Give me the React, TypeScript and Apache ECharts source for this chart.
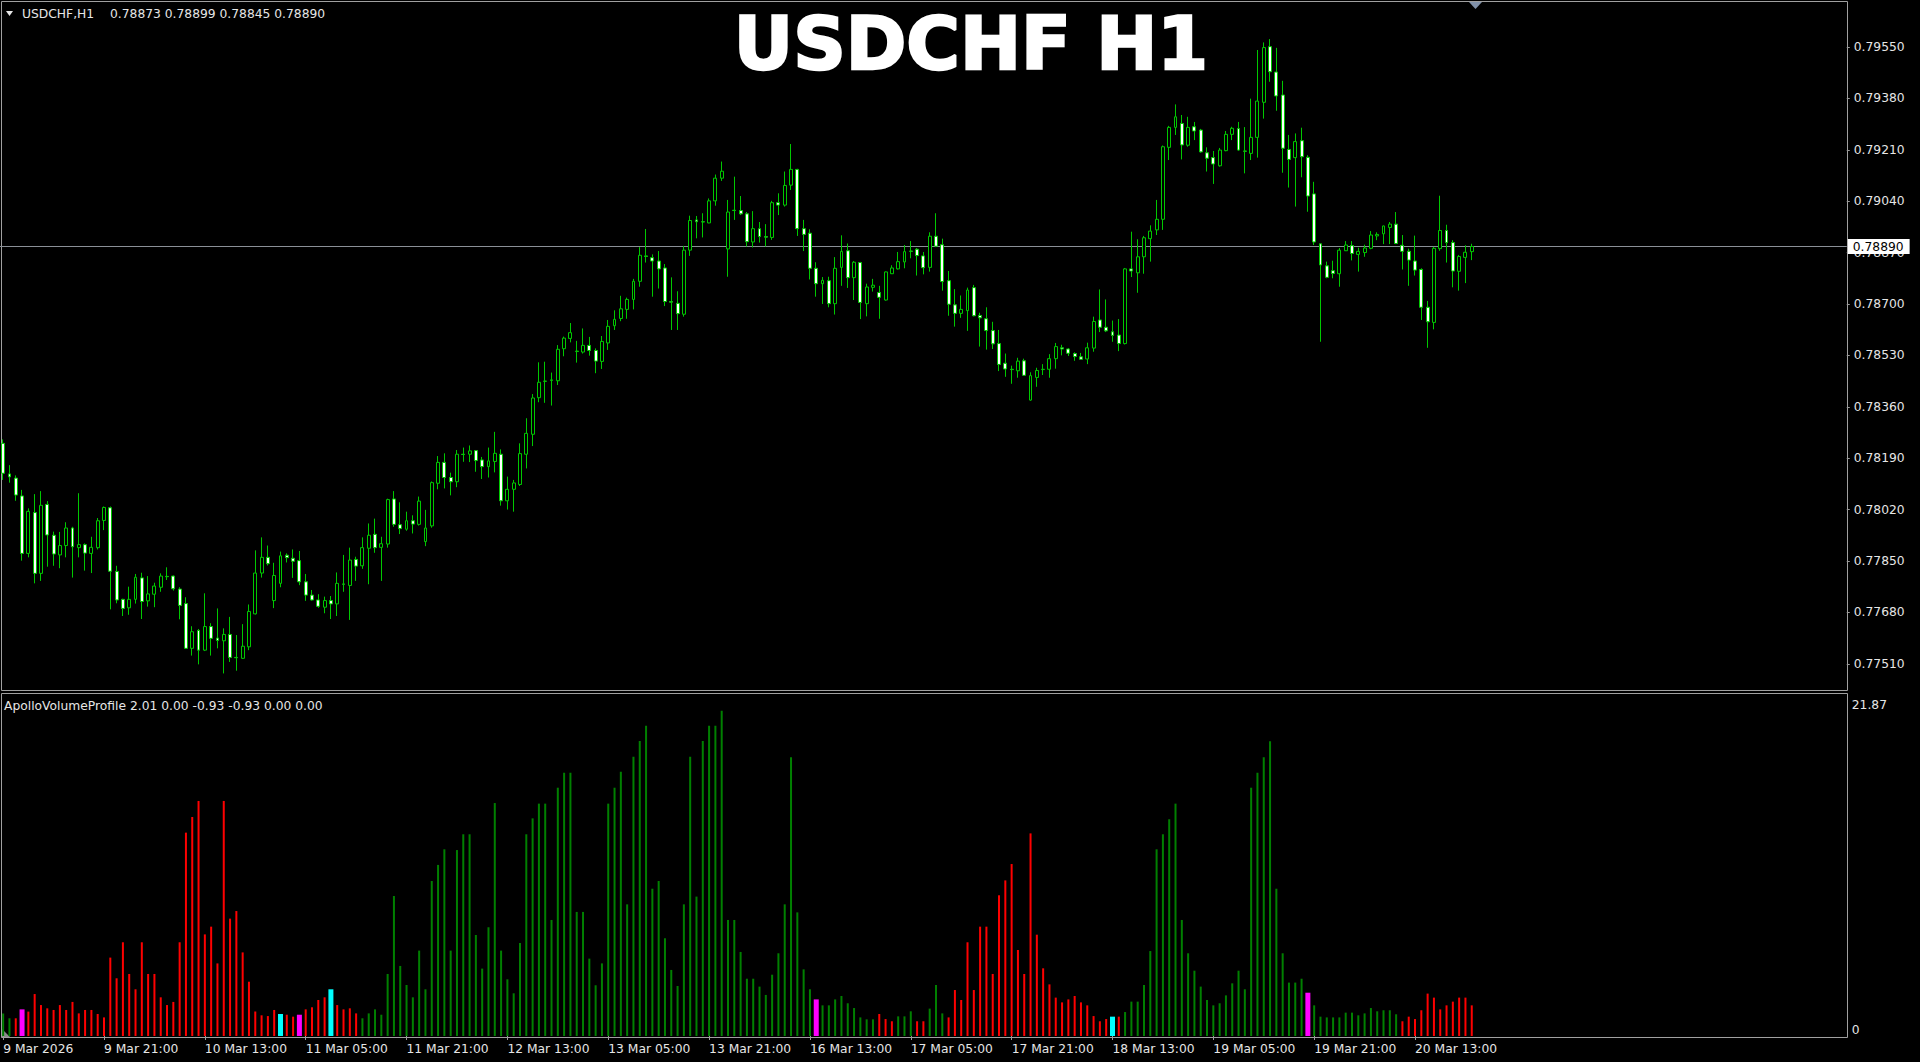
import React, { useEffect, useRef } from "react";
import * as echarts from "echarts";

// ---------- texts ----------
const chartTitle = "USDCHF H1";
const headerSymbol = "USDCHF,H1";
const indicatorLabel = "ApolloVolumeProfile 2.01 0.00 -0.93 -0.93 0.00 0.00";
const firstTimeLabel = "9 Mar 2026";

// ---------- time axis (H1 bars, broker time) ----------
const sessionDays = [
  { day: 9, first: 5, last: 23 },
  { day: 10, first: 0, last: 23 },
  { day: 11, first: 0, last: 23 },
  { day: 12, first: 0, last: 23 },
  { day: 13, first: 0, last: 23 },
  { day: 16, first: 0, last: 23 },
  { day: 17, first: 0, last: 23 },
  { day: 18, first: 0, last: 23 },
  { day: 19, first: 0, last: 23 },
  { day: 20, first: 0, last: 22 },
];
const timeLabelStep = 16;
const chartShiftSlots = 59;

// ---------- price scale ----------
const priceTicks = [0.7751, 0.7768, 0.7785, 0.7802, 0.7819, 0.7836, 0.7853, 0.787, 0.7887, 0.7904, 0.7921, 0.7938, 0.7955];
const priceMin = 0.774232;
const priceMax = 0.796954;
const volumeTicks = [0, 21.87];
const volumeMax = 22.99;

// ---------- OHLC ----------
const priceOpen = [
  0.78239,0.78138,0.78124,0.78065,0.77875,0.78010,0.77809,0.78037,0.77935,0.77870,
  0.77901,0.77959,0.77894,0.77904,0.77875,0.77894,0.77984,0.78026,0.77815,0.77723,
  0.77695,0.77723,0.77794,0.77718,0.77740,0.77763,0.77799,0.77800,0.77757,0.77709,
  0.77561,0.77620,0.77555,0.77633,0.77595,0.77586,0.77607,0.77531,0.77528,0.77566,
  0.77675,0.77810,0.77862,0.77719,0.77776,0.77869,0.77859,0.77851,0.77781,0.77737,
  0.77721,0.77697,0.77719,0.77708,0.77774,0.77769,0.77855,0.77834,0.77892,0.77938,
  0.77895,0.77906,0.78055,0.77970,0.77955,0.77983,0.77971,0.77914,0.77966,0.78107,
  0.78176,0.78126,0.78112,0.78203,0.78203,0.78215,0.78184,0.78162,0.78179,0.78203,
  0.78049,0.78087,0.78103,0.78203,0.78269,0.78390,0.78444,0.78447,0.78446,0.78552,
  0.78586,0.78544,0.78541,0.78563,0.78546,0.78510,0.78571,0.78628,0.78652,0.78682,
  0.78715,0.78775,0.78859,0.78853,0.78842,0.78819,0.78708,0.78702,0.78666,0.78878,
  0.78978,0.78972,0.78968,0.79041,0.79116,0.78882,0.79010,0.79009,0.78998,0.78905,
  0.78949,0.78923,0.78920,0.79035,0.79027,0.79093,0.79145,0.78949,0.78934,0.78818,
  0.78767,0.78777,0.78701,0.78821,0.78876,0.78787,0.78837,0.78701,0.78755,0.78738,
  0.78713,0.78800,0.78816,0.78839,0.78875,0.78881,0.78859,0.78821,0.78924,0.78896,
  0.78777,0.78697,0.78669,0.78678,0.78754,0.78662,0.78651,0.78612,0.78569,0.78504,
  0.78484,0.78479,0.78512,0.78382,0.78457,0.78483,0.78484,0.78519,0.78555,0.78551,
  0.78536,0.78525,0.78518,0.78554,0.78647,0.78623,0.78608,0.78597,0.78569,0.78816,
  0.78803,0.78856,0.78916,0.78945,0.78980,0.79218,0.79284,0.79297,0.79225,0.79286,
  0.79275,0.79200,0.79184,0.79157,0.79207,0.79261,0.79280,0.79206,0.79198,0.79251,
  0.79367,0.79551,0.79467,0.79391,0.79211,0.79184,0.79240,0.79185,0.79064,0.78899,
  0.78826,0.78810,0.78800,0.78876,0.78893,0.78864,0.78870,0.78884,0.78925,0.78932,
  0.78953,0.78964,0.78894,0.78874,0.78842,0.78814,0.78689,0.78639,0.78883,0.78943,
  0.78903,0.78808,0.78854,0.78873,
];
const priceHigh = [
  0.78252,0.78167,0.78133,0.78085,0.78024,0.78071,0.78081,0.78048,0.77947,0.77946,
  0.77978,0.77963,0.78074,0.77908,0.77930,0.77992,0.78030,0.78030,0.77834,0.77725,
  0.77765,0.77807,0.77811,0.77800,0.77778,0.77809,0.77829,0.77802,0.77763,0.77730,
  0.77634,0.77625,0.77743,0.77644,0.77693,0.77627,0.77665,0.77605,0.77641,0.77706,
  0.77885,0.77928,0.77901,0.77844,0.77881,0.77875,0.77888,0.77883,0.77807,0.77754,
  0.77740,0.77732,0.77734,0.77812,0.77870,0.77894,0.77864,0.77928,0.77974,0.77990,
  0.77930,0.78056,0.78081,0.78044,0.78013,0.78001,0.78063,0.78019,0.78113,0.78197,
  0.78206,0.78142,0.78217,0.78225,0.78232,0.78217,0.78194,0.78225,0.78277,0.78219,
  0.78129,0.78118,0.78239,0.78322,0.78402,0.78507,0.78509,0.78473,0.78564,0.78592,
  0.78637,0.78578,0.78619,0.78591,0.78553,0.78594,0.78647,0.78679,0.78727,0.78721,
  0.78783,0.78888,0.78948,0.78864,0.78875,0.78832,0.78788,0.78742,0.78892,0.78992,
  0.78991,0.79000,0.79049,0.79128,0.79171,0.79044,0.79121,0.79057,0.79004,0.79007,
  0.78971,0.78964,0.79041,0.79066,0.79138,0.79229,0.79147,0.78978,0.78947,0.78838,
  0.78789,0.78790,0.78855,0.78927,0.78900,0.78842,0.78839,0.78767,0.78783,0.78760,
  0.78807,0.78828,0.78872,0.78895,0.78908,0.78885,0.78872,0.78937,0.79000,0.78916,
  0.78809,0.78749,0.78728,0.78754,0.78763,0.78671,0.78689,0.78641,0.78614,0.78536,
  0.78496,0.78522,0.78519,0.78474,0.78489,0.78501,0.78534,0.78571,0.78565,0.78554,
  0.78540,0.78538,0.78572,0.78658,0.78748,0.78715,0.78645,0.78650,0.78819,0.78939,
  0.78914,0.78925,0.78960,0.79044,0.79224,0.79289,0.79360,0.79325,0.79319,0.79302,
  0.79279,0.79218,0.79206,0.79216,0.79272,0.79286,0.79302,0.79285,0.79379,0.79540,
  0.79565,0.79576,0.79547,0.79438,0.79259,0.79264,0.79283,0.79192,0.79104,0.78900,
  0.78840,0.78843,0.78885,0.78908,0.78908,0.78886,0.78896,0.78941,0.78937,0.78959,
  0.78971,0.79004,0.78928,0.78883,0.78926,0.78818,0.78710,0.78889,0.79058,0.78962,
  0.78911,0.78862,0.78894,0.78899,
];
const priceLow = [
  0.78118,0.78109,0.78049,0.77851,0.77862,0.77776,0.77784,0.77831,0.77834,0.77826,
  0.77862,0.77795,0.77862,0.77818,0.77810,0.77888,0.77952,0.77690,0.77710,0.77668,
  0.77672,0.77709,0.77658,0.77699,0.77697,0.77748,0.77787,0.77752,0.77657,0.77560,
  0.77537,0.77508,0.77552,0.77537,0.77561,0.77478,0.77516,0.77487,0.77526,0.77555,
  0.77673,0.77795,0.77835,0.77694,0.77763,0.77845,0.77794,0.77770,0.77718,0.77719,
  0.77695,0.77677,0.77658,0.77668,0.77748,0.77655,0.77784,0.77824,0.77773,0.77877,
  0.77784,0.77894,0.77963,0.77939,0.77950,0.77941,0.77967,0.77899,0.77960,0.78087,
  0.78090,0.78067,0.78094,0.78178,0.78177,0.78145,0.78121,0.78126,0.78143,0.78033,
  0.78020,0.78013,0.78098,0.78156,0.78230,0.78375,0.78373,0.78364,0.78432,0.78527,
  0.78573,0.78506,0.78536,0.78529,0.78471,0.78485,0.78548,0.78614,0.78643,0.78651,
  0.78682,0.78757,0.78837,0.78724,0.78751,0.78693,0.78614,0.78614,0.78658,0.78859,
  0.78917,0.78920,0.78967,0.79025,0.79107,0.78790,0.78978,0.78994,0.78890,0.78887,
  0.78903,0.78890,0.78912,0.78994,0.79022,0.79077,0.78925,0.78875,0.78781,0.78724,
  0.78700,0.78689,0.78665,0.78760,0.78753,0.78713,0.78650,0.78659,0.78741,0.78651,
  0.78711,0.78799,0.78814,0.78818,0.78851,0.78794,0.78798,0.78807,0.78888,0.78744,
  0.78661,0.78625,0.78654,0.78611,0.78659,0.78559,0.78549,0.78551,0.78478,0.78459,
  0.78436,0.78456,0.78463,0.78380,0.78426,0.78465,0.78456,0.78486,0.78530,0.78528,
  0.78512,0.78515,0.78501,0.78542,0.78607,0.78607,0.78575,0.78544,0.78566,0.78789,
  0.78737,0.78800,0.78840,0.78928,0.78945,0.79176,0.79259,0.79178,0.79220,0.79242,
  0.79200,0.79138,0.79097,0.79154,0.79205,0.79242,0.79207,0.79132,0.79176,0.79184,
  0.79313,0.79435,0.79339,0.79134,0.79085,0.79022,0.79119,0.79005,0.78895,0.78575,
  0.78785,0.78785,0.78757,0.78875,0.78844,0.78807,0.78856,0.78881,0.78911,0.78898,
  0.78898,0.78898,0.78814,0.78760,0.78794,0.78647,0.78555,0.78616,0.78876,0.78837,
  0.78755,0.78744,0.78769,0.78845,
];
const priceClose = [
  0.78140,0.78128,0.78068,0.77875,0.78014,0.77809,0.78034,0.77936,0.77873,0.77901,
  0.77959,0.77897,0.77904,0.77876,0.77895,0.77983,0.78027,0.77816,0.77721,0.77693,
  0.77723,0.77796,0.77716,0.77741,0.77767,0.77800,0.77798,0.77758,0.77703,0.77561,
  0.77616,0.77555,0.77633,0.77594,0.77587,0.77607,0.77531,0.77530,0.77568,0.77683,
  0.77810,0.77862,0.77841,0.77802,0.77867,0.77861,0.77849,0.77781,0.77737,0.77721,
  0.77700,0.77719,0.77708,0.77776,0.77773,0.77853,0.77833,0.77894,0.77935,0.77894,
  0.77907,0.78053,0.77971,0.77957,0.77983,0.77972,0.78048,0.77959,0.78109,0.78176,
  0.78126,0.78112,0.78203,0.78202,0.78214,0.78182,0.78162,0.78181,0.78206,0.78049,
  0.78087,0.78108,0.78205,0.78272,0.78389,0.78441,0.78445,0.78449,0.78550,0.78587,
  0.78605,0.78543,0.78563,0.78546,0.78511,0.78576,0.78626,0.78649,0.78684,0.78715,
  0.78775,0.78861,0.78857,0.78842,0.78816,0.78708,0.78706,0.78668,0.78878,0.78976,
  0.78972,0.78971,0.79041,0.79116,0.79139,0.79004,0.79009,0.78998,0.78906,0.78949,
  0.78923,0.78921,0.79035,0.79027,0.79092,0.79145,0.78949,0.78930,0.78818,0.78767,
  0.78778,0.78701,0.78818,0.78874,0.78787,0.78838,0.78705,0.78756,0.78762,0.78722,
  0.78806,0.78819,0.78840,0.78873,0.78874,0.78860,0.78820,0.78924,0.78891,0.78774,
  0.78699,0.78669,0.78682,0.78746,0.78661,0.78654,0.78612,0.78568,0.78500,0.78485,
  0.78483,0.78511,0.78464,0.78463,0.78480,0.78484,0.78519,0.78559,0.78551,0.78537,
  0.78526,0.78517,0.78555,0.78642,0.78623,0.78611,0.78596,0.78569,0.78816,0.78809,
  0.78856,0.78919,0.78941,0.78980,0.79220,0.79284,0.79319,0.79226,0.79284,0.79272,
  0.79203,0.79182,0.79163,0.79209,0.79261,0.79281,0.79209,0.79205,0.79251,0.79371,
  0.79548,0.79468,0.79388,0.79215,0.79178,0.79237,0.79187,0.79057,0.78905,0.78829,
  0.78788,0.78801,0.78878,0.78895,0.78867,0.78874,0.78885,0.78928,0.78930,0.78958,
  0.78964,0.78900,0.78874,0.78845,0.78812,0.78689,0.78641,0.78884,0.78943,0.78903,
  0.78809,0.78857,0.78871,0.78890,
];

// ---------- ApolloVolumeProfile histogram ----------
const volumeValues = [
  1.52,1.19,1.19,1.79,1.64,2.82,2.08,1.86,1.75,2.08,
  1.75,2.29,1.52,1.75,1.75,1.48,1.25,5.27,3.88,6.30,
  4.17,3.14,6.30,4.17,4.17,2.60,2.08,2.29,6.30,13.67,
  14.72,15.80,6.83,7.35,4.88,15.80,7.89,8.40,5.62,3.65,
  1.64,1.39,1.34,1.75,1.48,1.43,1.30,1.43,1.79,1.93,
  2.42,2.60,3.14,2.08,1.79,1.86,1.52,1.19,1.52,1.79,
  1.43,4.17,9.41,4.71,3.43,2.60,5.74,3.14,10.42,11.50,
  12.55,5.74,12.50,13.56,13.56,6.79,4.53,7.31,15.66,5.74,
  3.81,2.87,6.25,13.56,14.63,15.62,15.62,7.80,16.69,17.70,
  17.70,8.34,8.34,5.20,3.41,4.88,15.62,16.69,17.77,8.85,
  18.78,19.83,20.86,9.90,10.42,6.57,4.44,3.36,8.85,18.78,
  9.37,19.83,20.86,20.86,21.87,7.80,7.80,5.65,3.85,3.85,
  3.32,2.76,4.12,5.56,8.85,18.73,8.31,4.48,3.14,2.46,
  2.06,2.06,2.46,2.69,2.20,1.88,1.25,1.12,1.12,1.48,
  1.14,0.99,1.32,1.32,1.66,0.99,0.99,1.84,3.43,1.52,
  1.25,3.09,2.42,6.30,3.09,7.35,7.35,4.17,9.46,10.46,
  11.56,5.78,4.17,13.62,6.81,4.55,3.47,2.58,2.26,2.46,
  2.69,2.26,2.06,1.34,0.99,1.14,1.30,1.30,1.61,2.31,
  2.31,3.43,5.71,12.55,13.56,14.57,15.62,7.80,5.56,4.39,
  3.32,2.42,2.06,2.20,2.73,3.54,4.39,3.14,16.69,17.70,
  18.73,19.81,9.90,5.56,3.59,3.59,3.85,2.91,2.06,1.30,
  1.25,1.25,1.25,1.57,1.57,1.39,1.52,1.88,1.66,1.73,
  1.73,1.46,0.99,1.30,1.14,1.73,2.85,2.58,1.79,2.06,
  2.31,2.58,2.58,2.06,
];
// g = buying (green), r = selling (red), m = magenta signal, c = cyan signal
const volumeState = [
  "ggrmrrrrrr", "rrrrrrrrrr", "rrrrrrrrrr", "rrrrrrrrrr", "rrrrcrrmrr",
  "rrcrrrrggg", "gggggggggg", "gggggggggg", "gggggggggg", "gggggggggg",
  "gggggggggg", "gggggggggg", "gggggggggm", "gggggggggr", "rrgggrrggg",
  "rrrrrrrrrr", "rrrrrrrrrr", "rrrrrrcrgg", "gggggggggg", "gggggggggg",
  "gggggggmgg", "gggggggggg", "ggrrrrrrrr", "rrrr",
].join("");

const stateColors: Record<string, string> = { g: "#008000", r: "#ff0000", m: "#ff00ff", c: "#00ffff" };

const FONT = "DejaVu Sans";
const TXT = "#e6e6e6";

export default function App() {
  const ref = useRef<HTMLDivElement>(null);

  useEffect(() => {
    if (!ref.current) return;
    const chart = echarts.init(ref.current, undefined, { renderer: "svg" });

    const times: string[] = [];
    sessionDays.forEach((s) => {
      for (let h = s.first; h <= s.last; h++) times.push(`${s.day} Mar ${String(h).padStart(2, "0")}:00`);
    });
    const n = times.length;
    const axisCats = times.concat(Array.from({ length: chartShiftSlots }, (_, i) => `shift${i}`));
    const showLabel = (idx: number) => idx < n && idx % timeLabelStep === 0;

    const candleData = priceOpen.map((o, i) => [o, priceClose[i], priceLow[i], priceHigh[i]]);
    const normalBars = volumeValues.map((v, i) => {
      const s = volumeState[i];
      return s === "g" || s === "r" ? { value: v, itemStyle: { color: stateColors[s] } } : null;
    });
    const signalBars = volumeValues.map((v, i) => {
      const s = volumeState[i];
      return s === "m" || s === "c" ? { value: v, itemStyle: { color: stateColors[s] } } : null;
    });
    const last = n - 1;
    const bid = priceClose[last];
    const headerValues = [priceOpen[last], priceHigh[last], priceLow[last], priceClose[last]].map((v) => v.toFixed(5)).join(" ");

    const gridRight = 1920 - axisCats.length * 6.303;

    chart.setOption({
      animation: false,
      backgroundColor: "#000000",
      grid: [
        { left: 0, right: gridRight, top: 3, height: 687 },
        { left: 0, right: gridRight, top: 694, height: 342 },
      ],
      xAxis: [
        { type: "category", gridIndex: 0, data: axisCats, show: false },
        {
          type: "category",
          gridIndex: 1,
          data: axisCats,
          axisLine: { show: false },
          axisTick: { show: true, alignWithLabel: true, interval: (i: number) => showLabel(i), length: 4, lineStyle: { color: "#9a9a9a" } },
          axisLabel: {
            interval: (i: number) => showLabel(i),
            formatter: (v: string, i: number) => (i === 0 ? firstTimeLabel : v),
            align: "left",
            color: TXT,
            fontFamily: FONT,
            fontSize: 12.3,
            margin: 7,
          },
          splitLine: { show: false },
        },
        { type: "category", gridIndex: 1, data: axisCats, show: false },
      ],
      yAxis: [
        {
          type: "value",
          gridIndex: 0,
          position: "right",
          min: priceMin,
          max: priceMax,
          splitLine: { show: false },
          axisLine: { show: false },
          axisTick: { show: true, customValues: priceTicks, length: 3, lineStyle: { color: "#9a9a9a" } },
          axisLabel: {
            customValues: priceTicks,
            formatter: (v: number) => v.toFixed(5),
            color: TXT,
            fontFamily: FONT,
            fontSize: 12.3,
            margin: 7,
          },
        },
        {
          type: "value",
          gridIndex: 1,
          position: "right",
          min: 0,
          max: volumeMax,
          splitLine: { show: false },
          axisLine: { show: false },
          axisTick: { show: false },
          axisLabel: {
            customValues: volumeTicks,
            formatter: (v: number) => (v === 0 ? "0" : v.toFixed(2)),
            verticalAlign: "bottom",
            color: TXT,
            fontFamily: FONT,
            fontSize: 12.3,
            margin: 5,
          },
        },
      ],
      series: [
        {
          type: "candlestick",
          xAxisIndex: 0,
          yAxisIndex: 0,
          data: candleData,
          barWidth: 3.4,
          silent: true,
          z: 3,
          itemStyle: { color: "#000000", color0: "#ffffff", borderColor: "#00c800", borderColor0: "#00c800", borderWidth: 1 },
          markLine: {
            silent: true,
            precision: 5,
            symbol: ["none", "none"],
            z: 2,
            data: [{ yAxis: bid }],
            lineStyle: { color: "#8a8f96", width: 1, type: "solid" },
            label: {
              position: "end",
              formatter: bid.toFixed(5),
              backgroundColor: "#ffffff",
              color: "#000000",
              fontFamily: FONT,
              fontSize: 12.3,
              padding: [2, 6, 1, 5],
              distance: 1,
            },
          },
        },
        { type: "bar", xAxisIndex: 1, yAxisIndex: 1, data: normalBars, barWidth: 2, silent: true },
        { type: "bar", xAxisIndex: 2, yAxisIndex: 1, data: signalBars, barWidth: 5, silent: true },
      ],
      graphic: [
        { type: "rect", silent: true, shape: { x: 1.5, y: 1.5, width: 1846, height: 689 }, style: { fill: "none", stroke: "#a0a0a0", lineWidth: 1 } },
        { type: "rect", silent: true, shape: { x: 1.5, y: 693.5, width: 1846, height: 344 }, style: { fill: "none", stroke: "#a0a0a0", lineWidth: 1 } },
        { type: "polygon", silent: true, shape: { points: [[1469, 2], [1482, 2], [1475.5, 9]] }, style: { fill: "#8090a8" } },
        { type: "polygon", silent: true, shape: { points: [[2, 1029], [2, 1037], [10, 1037]] }, style: { fill: "#8a8a8a" } },
        { type: "polygon", silent: true, shape: { points: [[6, 11], [13, 11], [9.5, 16]] }, style: { fill: TXT } },
        {
          type: "text", silent: true, x: 22, y: 14,
          style: { text: headerSymbol, fill: TXT, font: `12.3px "${FONT}"`, textAlign: "left", textVerticalAlign: "middle", verticalAlign: "middle" },
        },
        {
          type: "text", silent: true, x: 110, y: 14,
          style: { text: headerValues, fill: TXT, font: `12.3px "${FONT}"`, textAlign: "left", textVerticalAlign: "middle", verticalAlign: "middle" },
        },
        {
          type: "text", silent: true, x: 4, y: 706,
          style: { text: indicatorLabel, fill: TXT, font: `12.3px "${FONT}"`, textAlign: "left", textVerticalAlign: "middle", verticalAlign: "middle" },
        },
        {
          type: "text", silent: true, x: 971, y: 43, z: 100,
          style: {
            text: chartTitle, fill: "#ffffff", stroke: "#ffffff", lineWidth: 2.5,
            font: `bold 73px "${FONT}"`, textAlign: "center", align: "center", textVerticalAlign: "middle", verticalAlign: "middle",
          },
        },
      ],
    });

    return () => chart.dispose();
  }, []);

  return (
    <div
      ref={ref}
      style={{ position: "fixed", left: 0, top: 0, width: 1920, height: 1062, background: "#000" }}
    />
  );
}
